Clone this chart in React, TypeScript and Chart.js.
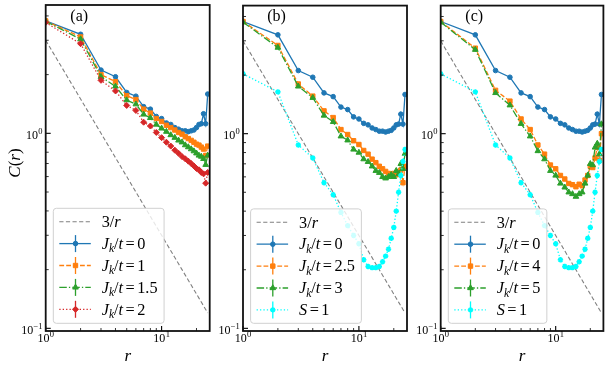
import React, { useEffect, useRef } from "react";
import { Chart, registerables } from "chart.js";
Chart.register(...registerables);

// ---------------- data ----------------
const R = [1, 2, 3, 4, 5, 6, 7, 8, 9, 10, 11, 12, 13, 14, 15, 16, 17, 18, 19, 20, 21, 22, 23, 24, 25];
const J0 = [3.77, 3.22, 2.11, 1.95, 1.62, 1.55, 1.37, 1.33, 1.22, 1.19, 1.13, 1.11, 1.07, 1.05, 1.03, 1.03, 1.02, 1.03, 1.04, 1.07, 1.11, 1.12, 1.26, 1.12, 1.59];
const A_J1 = [3.77, 3.12, 2.0, 1.84, 1.56, 1.49, 1.33, 1.27, 1.19, 1.15, 1.1, 1.07, 1.04, 1.01, 0.99, 0.96, 0.94, 0.92, 0.9, 0.88, 0.87, 0.85, 0.83, 0.77, 0.86];
const A_J15 = [3.75, 3.04, 1.95, 1.74, 1.48, 1.41, 1.25, 1.2, 1.11, 1.06, 1.02, 0.98, 0.95, 0.92, 0.9, 0.87, 0.85, 0.83, 0.81, 0.79, 0.77, 0.76, 0.74, 0.69, 0.77];
const A_J2 = [3.7, 2.88, 1.87, 1.65, 1.39, 1.31, 1.14, 1.09, 1.01, 0.95, 0.9, 0.86, 0.82, 0.79, 0.76, 0.74, 0.72, 0.7, 0.68, 0.66, 0.65, 0.63, 0.62, 0.555, 0.63];
const B_J25 = [3.77, 2.84, 1.8, 1.56, 1.31, 1.21, 1.05, 0.99, 0.92, 0.88, 0.82, 0.785, 0.74, 0.71, 0.68, 0.66, 0.64, 0.625, 0.62, 0.625, 0.615, 0.635, 0.65, 0.56, 0.68];
const B_J3 = [3.74, 2.77, 1.75, 1.53, 1.24, 1.15, 0.97, 0.925, 0.83, 0.8, 0.74, 0.717, 0.68, 0.645, 0.63, 0.6, 0.59, 0.6, 0.615, 0.6, 0.645, 0.62, 0.7, 0.66, 0.79];
const C_J4 = [3.77, 2.75, 1.67, 1.47, 1.19, 1.05, 0.875, 0.785, 0.69, 0.66, 0.61, 0.585, 0.555, 0.547, 0.534, 0.55, 0.54, 0.578, 0.61, 0.68, 0.67, 0.75, 0.85, 0.73, 1.0];
const C_J5 = [3.74, 2.7, 1.62, 1.4, 1.125, 0.97, 0.815, 0.74, 0.645, 0.61, 0.555, 0.53, 0.5, 0.49, 0.475, 0.49, 0.5, 0.555, 0.61, 0.7, 0.69, 0.85, 0.89, 0.785, 1.12];
const S1 = [2.03, 1.64, 0.875, 0.75, 0.56, 0.486, 0.394, 0.337, 0.3, 0.272, 0.225, 0.208, 0.205, 0.205, 0.208, 0.22, 0.235, 0.255, 0.29, 0.33, 0.4, 0.5, 0.61, 0.72, 0.83];
const REF_COEF = 3; // 3/r

const X_MIN = 1;
const X_MAX = 26;
const Y_MIN = 0.0969;
const Y_MAX = 4.55;
const X_MAJOR = [1, 10];
const X_MINOR = [2, 3, 4, 5, 6, 7, 8, 9, 20];
const Y_MAJOR = [0.1, 1];
const Y_MINOR = [0.2, 0.3, 0.4, 0.5, 0.6, 0.7, 0.8, 0.9, 2, 3, 4];
const X_TICK_LABELS = [["10", "0"], ["10", "1"]];
const Y_TICK_LABELS = [["10", "\u22121"], ["10", "0"]];
const PANEL_TAGS = ["(a)", "(b)", "(c)"];

// ---------------- layout ----------------
const W = 609;
const H = 369;
const TOP = 4;
const BOTTOM = 331;
const LEFTS = [45.7, 243, 440.7];
const PW = 164;
const FONT = '"Liberation Serif", "Times New Roman", serif';

type Seg = { t?: string; it?: boolean; sub?: boolean; sup?: boolean; gap?: number };
type Style = { color: string; dash: number[]; marker: string | null; radius: number; width: number; err: boolean };

const STY: Record<string, Style> = {
  ref: { color: "#808080", dash: [4.2, 2.4], marker: null, radius: 0, width: 1.1, err: false },
  j0: { color: "#1f77b4", dash: [], marker: "circle", radius: 2.3, width: 1.3, err: true },
  jo: { color: "#ff7f0e", dash: [4.8, 2.1], marker: "rect", radius: 3.1, width: 1.3, err: true },
  jg: { color: "#2ca02c", dash: [7.5, 2.1, 1.3, 2.1], marker: "triangle", radius: 3.3, width: 1.3, err: true },
  jr: { color: "#d62728", dash: [1.3, 2.1], marker: "rectRot", radius: 3.0, width: 1.3, err: true },
  s1: { color: "#00ffff", dash: [1.3, 2.1], marker: "star", radius: 2.7, width: 1.3, err: true },
};

const jl = (v: string): Seg[] => [
  { t: "J", it: true }, { t: "k", it: true, sub: true }, { t: "/" }, { t: "t", it: true },
  { gap: 2.5 }, { t: "=" }, { gap: 2.5 }, { t: v },
];
const REF_LABEL: Seg[] = [{ t: "3" }, { t: "/" }, { t: "r", it: true }];
const S_LABEL: Seg[] = [{ t: "S", it: true }, { gap: 2.5 }, { t: "=" }, { gap: 2.5 }, { t: "1" }];

type Series = { label: Seg[]; style: Style; values: number[] };
const REF = R.map((r) => REF_COEF / r);

const PANELS: Series[][] = [
  [
    { label: REF_LABEL, style: STY.ref, values: REF },
    { label: jl("0"), style: STY.j0, values: J0 },
    { label: jl("1"), style: STY.jo, values: A_J1 },
    { label: jl("1.5"), style: STY.jg, values: A_J15 },
    { label: jl("2"), style: STY.jr, values: A_J2 },
  ],
  [
    { label: REF_LABEL, style: STY.ref, values: REF },
    { label: jl("0"), style: STY.j0, values: J0 },
    { label: jl("2.5"), style: STY.jo, values: B_J25 },
    { label: jl("3"), style: STY.jg, values: B_J3 },
    { label: S_LABEL, style: STY.s1, values: S1 },
  ],
  [
    { label: REF_LABEL, style: STY.ref, values: REF },
    { label: jl("0"), style: STY.j0, values: J0 },
    { label: jl("4"), style: STY.jo, values: C_J4 },
    { label: jl("5"), style: STY.jg, values: C_J5 },
    { label: S_LABEL, style: STY.s1, values: S1 },
  ],
];

// ---------------- drawing helpers ----------------
function segFont(s: Seg, size: number) {
  const sz = s.sub || s.sup ? size * 0.7 : size;
  return `${s.it ? "italic " : ""}${sz}px ${FONT}`;
}
function richWidth(ctx: CanvasRenderingContext2D, segs: Seg[], size: number) {
  let w = 0;
  for (const s of segs) {
    if (s.gap) { w += s.gap; continue; }
    ctx.font = segFont(s, size);
    w += ctx.measureText(s.t || "").width;
  }
  return w;
}
function drawRich(ctx: CanvasRenderingContext2D, segs: Seg[], x: number, y: number, size: number, align: string) {
  const w = richWidth(ctx, segs, size);
  let cx = align === "center" ? x - w / 2 : align === "right" ? x - w : x;
  ctx.textAlign = "left";
  ctx.textBaseline = "alphabetic";
  for (const s of segs) {
    if (s.gap) { cx += s.gap; continue; }
    ctx.font = segFont(s, size);
    const dy = s.sub ? size * 0.22 : s.sup ? -size * 0.42 : 0;
    ctx.fillText(s.t || "", cx, y + dy);
    cx += ctx.measureText(s.t || "").width;
  }
}
function drawMarker(ctx: CanvasRenderingContext2D, kind: string, x: number, y: number, r: number, color: string) {
  ctx.save();
  ctx.fillStyle = color;
  ctx.strokeStyle = color;
  ctx.lineWidth = 1;
  ctx.setLineDash([]);
  ctx.beginPath();
  if (kind === "circle") {
    ctx.arc(x, y, r, 0, Math.PI * 2);
  } else if (kind === "rect") {
    const s = Math.SQRT1_2 * r;
    ctx.rect(x - s, y - s, 2 * s, 2 * s);
  } else if (kind === "triangle") {
    let a = 0;
    ctx.moveTo(x + Math.sin(a) * r, y - Math.cos(a) * r);
    a += (2 * Math.PI) / 3;
    ctx.lineTo(x + Math.sin(a) * r, y - Math.cos(a) * r);
    a += (2 * Math.PI) / 3;
    ctx.lineTo(x + Math.sin(a) * r, y - Math.cos(a) * r);
    ctx.closePath();
  } else if (kind === "rectRot") {
    ctx.moveTo(x, y - r);
    ctx.lineTo(x + r, y);
    ctx.lineTo(x, y + r);
    ctx.lineTo(x - r, y);
    ctx.closePath();
  } else if (kind === "star") {
    ctx.lineWidth = 1.6;
    for (let k = 0; k < 4; k++) {
      const a = (k * Math.PI) / 4;
      ctx.moveTo(x - Math.cos(a) * r, y - Math.sin(a) * r);
      ctx.lineTo(x + Math.cos(a) * r, y + Math.sin(a) * r);
    }
    ctx.stroke();
    ctx.restore();
    return;
  }
  ctx.fill();
  ctx.stroke();
  ctx.restore();
}
function drawTickLabel(ctx: CanvasRenderingContext2D, base: string, sup: string, x: number, y: number, align: string) {
  const bs = 12;
  const ss = 8.5;
  ctx.font = `${bs}px ${FONT}`;
  const wb = ctx.measureText(base).width;
  ctx.font = `${ss}px ${FONT}`;
  const ws = ctx.measureText(sup).width;
  const w = wb + ws + 0.3;
  const x0 = align === "center" ? x - w / 2 : align === "right" ? x - w : x;
  ctx.textAlign = "left";
  ctx.textBaseline = "alphabetic";
  ctx.font = `${bs}px ${FONT}`;
  ctx.fillText(base, x0, y);
  ctx.font = `${ss}px ${FONT}`;
  ctx.fillText(sup, x0 + wb + 0.3, y - 4.8);
}

function makePlugin(idx: number, series: Series[]) {
  return {
    id: "mplaxes" + idx,
    afterDraw(chart: any) {
      const ctx: CanvasRenderingContext2D = chart.ctx;
      const a = chart.chartArea;
      const xs = chart.scales.x;
      const ys = chart.scales.y;
      ctx.save();

      // legend
      const lx = a.left + 7.6;
      const ly = a.top + 203.3;
      const lb = a.bottom - 7.7;
      const fs = 16.3;
      let tw = 0;
      for (const s of series) tw = Math.max(tw, richWidth(ctx, s.label, fs));
      const lw = 48.4 + tw + 6.5;
      ctx.beginPath();
      ctx.roundRect(lx, ly, lw, lb - ly, 3);
      ctx.fillStyle = "rgba(255,255,255,0.8)";
      ctx.fill();
      ctx.strokeStyle = "#d0d0d0";
      ctx.lineWidth = 1;
      ctx.stroke();
      series.forEach((s, i) => {
        const cy = ly + 13.4 + i * 21.9;
        const st = s.style;
        ctx.save();
        ctx.strokeStyle = st.color;
        ctx.lineWidth = st.width;
        ctx.setLineDash(st.dash);
        ctx.beginPath();
        ctx.moveTo(lx + 6, cy);
        ctx.lineTo(lx + 37.5, cy);
        ctx.stroke();
        ctx.setLineDash([]);
        const xm = lx + 22.2;
        if (st.err) {
          ctx.beginPath();
          ctx.moveTo(xm, cy - 8.5);
          ctx.lineTo(xm, cy + 8.5);
          ctx.stroke();
        }
        ctx.restore();
        if (st.marker) drawMarker(ctx, st.marker, xm, cy, st.radius, st.color);
        ctx.fillStyle = "#000";
        drawRich(ctx, s.label, lx + 48.4, cy + 5.2, fs, "left");
      });

      // ticks (inward)
      ctx.strokeStyle = "#000";
      ctx.setLineDash([]);
      const tick = (x1: number, y1: number, x2: number, y2: number, w: number) => {
        ctx.lineWidth = w;
        ctx.beginPath();
        ctx.moveTo(x1, y1);
        ctx.lineTo(x2, y2);
        ctx.stroke();
      };
      for (const v of X_MAJOR) { const x = xs.getPixelForValue(v); tick(x, a.bottom, x, a.bottom - 5, 1.1); }
      for (const v of X_MINOR) { const x = xs.getPixelForValue(v); tick(x, a.bottom, x, a.bottom - 3, 0.8); }
      for (const v of Y_MAJOR) { const y = ys.getPixelForValue(v); tick(a.left, y, a.left + 5, y, 1.1); }
      for (const v of Y_MINOR) { const y = ys.getPixelForValue(v); tick(a.left, y, a.left + 3, y, 0.8); }

      // spines
      ctx.lineWidth = 1.8;
      ctx.strokeStyle = "#111";
      ctx.strokeRect(a.left, a.top, a.right - a.left, a.bottom - a.top);

      // tick labels
      ctx.fillStyle = "#000";
      X_MAJOR.forEach((v, k) => {
        drawTickLabel(ctx, X_TICK_LABELS[k][0], X_TICK_LABELS[k][1], xs.getPixelForValue(v), a.bottom + 10.5, "center");
      });
      Y_MAJOR.forEach((v, k) => {
        drawTickLabel(ctx, Y_TICK_LABELS[k][0], Y_TICK_LABELS[k][1], a.left - 3.2, ys.getPixelForValue(v) + 5.3, "right");
      });

      // axis labels
      drawRich(ctx, [{ t: "r", it: true }], (a.left + a.right) / 2, 360.5, 17, "center");
      if (idx === 0) {
        ctx.save();
        ctx.translate(19.5, 163);
        ctx.rotate(-Math.PI / 2);
        drawRich(ctx, [{ t: "C", it: true }, { t: "(" }, { t: "r", it: true }, { t: ")" }], 0, 0, 17, "center");
        ctx.restore();
      }

      // panel tag
      ctx.font = `16px ${FONT}`;
      ctx.textAlign = "center";
      ctx.textBaseline = "alphabetic";
      ctx.fillText(PANEL_TAGS[idx], a.left + 33.5, 20.5);
      ctx.restore();
    },
  };
}

function Panel({ idx }: { idx: number }) {
  const ref = useRef<HTMLCanvasElement | null>(null);
  useEffect(() => {
    const canvas = ref.current;
    if (!canvas) return;
    const series = PANELS[idx];
    const n = series.length;
    const left = LEFTS[idx];
    const chart = new Chart(canvas, {
      type: "line",
      data: {
        datasets: series.map((s, i) => ({
          label: String(i),
          data: R.map((r, k) => ({ x: r, y: s.values[k] })),
          borderColor: s.style.color,
          backgroundColor: s.style.color,
          borderWidth: s.style.width,
          borderDash: s.style.dash,
          pointStyle: (s.style.marker || "circle") as any,
          pointRadius: s.style.marker ? s.style.radius : 0,
          pointBorderWidth: s.style.marker === "star" ? 1.6 : 1,
          pointBackgroundColor: s.style.color,
          pointBorderColor: s.style.color,
          tension: 0,
          fill: false,
          order: n - i,
          clip: 0,
        })),
      },
      options: {
        responsive: false,
        animation: false,
        devicePixelRatio: 1,
        events: [],
        layout: { padding: { left: left, right: W - left - PW, top: TOP, bottom: H - BOTTOM } },
        scales: {
          x: { type: "logarithmic", min: X_MIN, max: X_MAX, display: false },
          y: { type: "logarithmic", min: Y_MIN, max: Y_MAX, display: false },
        },
        plugins: { legend: { display: false }, tooltip: { enabled: false } },
      } as any,
      plugins: [makePlugin(idx, series) as any],
    });
    return () => chart.destroy();
  }, [idx]);
  return (
    <canvas
      ref={ref}
      width={W}
      height={H}
      style={{ position: "absolute", left: 0, top: 0, width: W, height: H }}
    />
  );
}

export default function App() {
  return (
    <div style={{ position: "fixed", left: 0, top: 0, width: W, height: H, background: "#fff", overflow: "hidden" }}>
      <Panel idx={0} />
      <Panel idx={1} />
      <Panel idx={2} />
    </div>
  );
}
